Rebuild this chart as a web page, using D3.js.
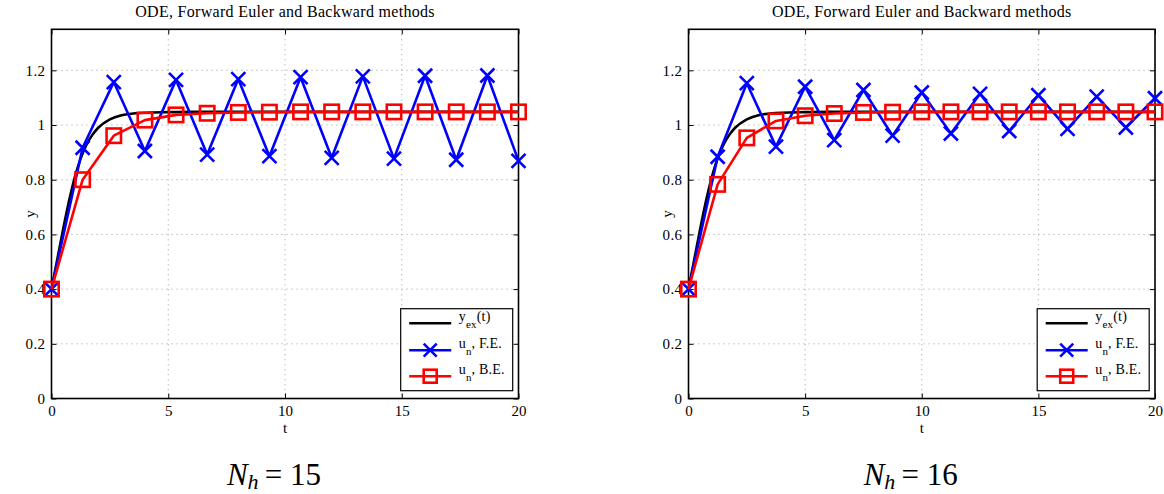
<!DOCTYPE html>
<html>
<head>
<meta charset="utf-8">
<script src="https://cdn.jsdelivr.net/npm/d3@7"></script>
<style>
  html, body { margin: 0; padding: 0; background: #fff; }
  svg { display: block; }
  svg text { font-family: "Liberation Serif", "Times New Roman", serif !important; fill: #000; }
  .tick text { font-size: 15px; }
</style>
</head>
<body>
<svg id="chart" width="1164" height="494"></svg>
<script>
// ---------- DATA ----------
const titleText = "ODE, Forward Euler and Backward methods";
const xTicks = [0, 5, 10, 15, 20];
const yTicks = [0, 0.2, 0.4, 0.6, 0.8, 1, 1.2];
const yTickLabels = ["0", "0.2", "0.4", "0.6", "0.8", "1", "1.2"];

// exact solution samples
const tExact = [0, 0.25, 0.5, 0.75, 1, 1.25, 1.5, 1.75, 2, 2.5, 3, 3.5, 4, 5, 6, 8, 20];
const yExact = [0.4, 0.510, 0.620, 0.722, 0.810, 0.878, 0.928, 0.964, 0.990, 1.021, 1.036, 1.042, 1.045, 1.047, 1.048, 1.048, 1.048];

// N_h = 15
const t15 = [0, 1.333, 2.667, 4, 5.333, 6.667, 8, 9.333, 10.667, 12, 13.333, 14.667, 16, 17.333, 18.667, 20];
const fe15 = [0.4, 0.917, 1.157, 0.905, 1.165, 0.892, 1.168, 0.886, 1.175, 0.880, 1.178, 0.877, 1.180, 0.873, 1.181, 0.869];
const be15 = [0.4, 0.800, 0.961, 1.018, 1.037, 1.043, 1.046, 1.047, 1.048, 1.048, 1.048, 1.048, 1.048, 1.048, 1.048, 1.048];

// N_h = 16
const t16 = [0, 1.25, 2.5, 3.75, 5, 6.25, 7.5, 8.75, 10, 11.25, 12.5, 13.75, 15, 16.25, 17.5, 18.75, 20];
const fe16 = [0.4, 0.884, 1.153, 0.921, 1.140, 0.945, 1.128, 0.961, 1.119, 0.969, 1.114, 0.978, 1.109, 0.986, 1.104, 0.991, 1.098];
const be16 = [0.4, 0.783, 0.953, 1.015, 1.034, 1.042, 1.046, 1.047, 1.048, 1.048, 1.048, 1.048, 1.048, 1.048, 1.048, 1.048, 1.048];

const legendLabels = [
  {main: "y", sub: "ex", rest: "(t)"},
  {main: "u", sub: "n", rest: ", F.E."},
  {main: "u", sub: "n", rest: ", B.E."}
];
const panelLabels = ["15", "16"];

// ---------- DRAW ----------
const svg = d3.select("#chart");
const BLUE = "#0000ff", RED = "#ff0000";

const panels = [
  {x0: 51.5, x1: 518.5, t: t15, fe: fe15, be: be15, label: panelLabels[0]},
  {x0: 688.5, x1: 1155, t: t16, fe: fe16, be: be16, label: panelLabels[1]}
];
const topY = 29.3, bottomY = 398.5;

function drawX(g, cx, cy, s) {
  g.append("path")
    .attr("d", `M${cx - s},${cy - s}L${cx + s},${cy + s}M${cx - s},${cy + s}L${cx + s},${cy - s}`)
    .attr("stroke", BLUE).attr("stroke-width", 2.6).attr("fill", "none");
}
function drawSq(g, cx, cy, s) {
  g.append("rect").attr("x", cx - s).attr("y", cy - s).attr("width", 2 * s).attr("height", 2 * s)
    .attr("stroke", RED).attr("stroke-width", 2.6).attr("fill", "none");
}

panels.forEach(p => {
  const g = svg.append("g");
  const x = d3.scaleLinear().domain([0, 20]).range([p.x0, p.x1]);
  const y = d3.scaleLinear().domain([0, 1.35]).range([bottomY, topY]);

  // grid
  const grid = g.append("g").attr("stroke", "#9a9a9a").attr("stroke-width", 1).attr("stroke-dasharray", "1,4");
  xTicks.forEach(v => grid.append("line").attr("x1", x(v)).attr("x2", x(v)).attr("y1", topY).attr("y2", bottomY));
  yTicks.forEach(v => grid.append("line").attr("x1", p.x0).attr("x2", p.x1).attr("y1", y(v)).attr("y2", y(v)));

  // axes (d3 axes, ticks inward)
  const tickLen = 5;
  g.append("g").attr("transform", `translate(0,${bottomY})`)
    .call(d3.axisBottom(x).tickValues(xTicks).tickSize(-tickLen).tickPadding(7).tickFormat(d3.format("d")))
    .call(a => { a.select(".domain").remove(); a.selectAll("line").attr("stroke-width", 1); });
  g.append("g").attr("transform", `translate(0,${topY})`)
    .call(d3.axisTop(x).tickValues(xTicks).tickSize(-tickLen).tickFormat(""))
    .call(a => { a.select(".domain").remove(); a.selectAll("line").attr("stroke-width", 1); });
  g.append("g").attr("transform", `translate(${p.x0},0)`)
    .call(d3.axisLeft(y).tickValues(yTicks).tickSize(-tickLen).tickPadding(6).tickFormat((d, i) => yTickLabels[i]))
    .call(a => { a.select(".domain").remove(); a.selectAll("text").attr("letter-spacing", 0.4); a.selectAll("line").attr("stroke-width", 1); });
  g.append("g").attr("transform", `translate(${p.x1},0)`)
    .call(d3.axisRight(y).tickValues(yTicks).tickSize(-tickLen).tickFormat(""))
    .call(a => { a.select(".domain").remove(); a.selectAll("line").attr("stroke-width", 1); });

  // box
  g.append("rect").attr("x", p.x0).attr("y", topY).attr("width", p.x1 - p.x0).attr("height", bottomY - topY)
    .attr("fill", "none").attr("stroke", "#000").attr("stroke-width", 1.6);

  // title & axis labels
  const cx = (p.x0 + p.x1) / 2;
  g.append("text").attr("x", cx).attr("y", 17).attr("text-anchor", "middle").style("font-size", "16px")
    .attr("letter-spacing", 0.3).text(titleText);
  g.append("text").attr("x", cx).attr("y", 433).attr("text-anchor", "middle").style("font-size", "15px").text("t");
  g.append("text").attr("transform", `translate(${p.x0 - 17},${(topY + bottomY) / 2}) rotate(-90)`)
    .attr("text-anchor", "middle").style("font-size", "15px").text("y");

  // data
  const clip = "clip" + p.label;
  g.append("clipPath").attr("id", clip).append("rect").attr("x", p.x0).attr("y", topY).attr("width", p.x1 - p.x0).attr("height", bottomY - topY);
  const exLine = d3.line().x((d, i) => x(tExact[i])).y(d => y(d)).curve(d3.curveMonotoneX);
  g.append("path").datum(yExact).attr("d", exLine).attr("fill", "none").attr("stroke", "#000").attr("stroke-width", 2.6).attr("clip-path", `url(#${clip})`);

  const lineFn = d3.line().x((d, i) => x(p.t[i])).y(d => y(d));
  g.append("path").datum(p.fe).attr("d", lineFn).attr("fill", "none").attr("stroke", BLUE).attr("stroke-width", 2.6).attr("stroke-linejoin", "round");
  p.fe.forEach((v, i) => drawX(g, x(p.t[i]), y(v), 7));
  g.append("path").datum(p.be).attr("d", lineFn).attr("fill", "none").attr("stroke", RED).attr("stroke-width", 2.6).attr("stroke-linejoin", "round");
  p.be.forEach((v, i) => drawSq(g, x(p.t[i]), y(v), 7.2));

  // legend
  const lw = 112, lh = 82;
  const lx = p.x1 - 5.8 - lw, ly = bottomY - 7.8 - lh;
  const lg = g.append("g");
  lg.append("rect").attr("x", lx).attr("y", ly).attr("width", lw).attr("height", lh)
    .attr("fill", "#fff").attr("stroke", "#000").attr("stroke-width", 1.2);
  const rowsY = [14.5, 41.5, 67.5];
  const colors = ["#000", BLUE, RED];
  legendLabels.forEach((L, i) => {
    const ry = ly + rowsY[i];
    lg.append("line").attr("x1", lx + 8.5).attr("x2", lx + 50.5).attr("y1", ry).attr("y2", ry)
      .attr("stroke", colors[i]).attr("stroke-width", 2.6);
    if (i === 1) drawX(lg, lx + 29.5, ry, 6.5);
    if (i === 2) drawSq(lg, lx + 29.5, ry, 6.5);
    const t = lg.append("text").attr("x", lx + 58).attr("y", ry - 2).style("font-size", "14px").attr("letter-spacing", 0.2);
    t.append("tspan").text(L.main);
    t.append("tspan").attr("dy", 7).style("font-size", "11px").text(L.sub);
    t.append("tspan").attr("dy", -7).text(L.rest);
  });

  // panel label N_h = value
  const pl = svg.append("text").attr("x", cx - 11).attr("y", 485).attr("text-anchor", "middle").style("font-size", "31px");
  pl.append("tspan").attr("font-style", "italic").text("N");
  pl.append("tspan").attr("font-style", "italic").style("font-size", "22px").attr("dy", 4).text("h");
  pl.append("tspan").attr("dy", -4).text("\u2009= " + p.label);
});
</script>
</body>
</html>
